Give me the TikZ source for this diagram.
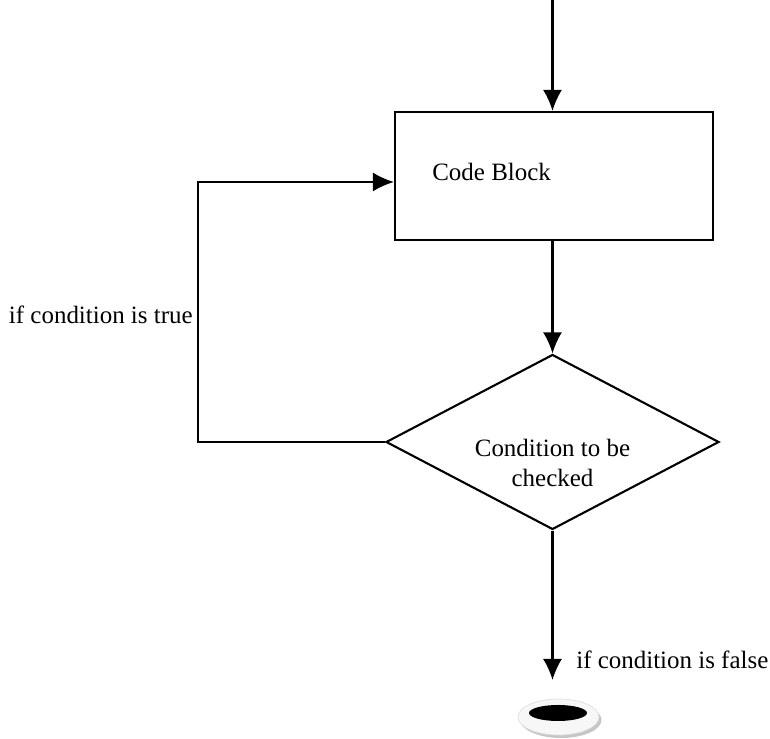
\documentclass[tikz,border=0pt]{standalone}
\usepackage{fontspec}
\setmainfont{Liberation Serif}
\usepackage{tikz}
\usetikzlibrary{
    shapes.geometric,
    positioning,
    arrows.meta
}

\begin{document}
\begin{tikzpicture}[
      block/.style={draw, line width=1.2pt, minimum width=6.36cm, minimum height=2.56cm},
      decision/.style={draw, diamond, line width=1.2pt, inner sep=0pt, minimum width=6.66cm, minimum height=3.5cm},
      txt/.style={font=\fontsize{14.2}{17}\selectfont, inner sep=0pt, align=center},
      arrow/.style={-{Latex[length=0.42cm, width=0.38cm]}, line width=1.2pt}
    ]
    \useasboundingbox (0,0) rectangle (15.4,14.78);

    \coordinate (entry) at (11.05,14.78);
    \node[block] (code) at (11.08,11.26) {};
    \node[txt, anchor=west] (codetxt) at (8.64,11.34) {Code Block};
    \node[decision] (cond) at (11.05,5.94) {};
    \node[txt] (condtxt) at (11.05,5.52) {Condition to be\\checked};

    \node[ellipse, fill=gray!45, minimum width=1.62cm, minimum height=0.72cm] (shadow) at (11.22,0.38) {};
    \node[ellipse, draw=gray!25, fill=gray!6, minimum width=1.62cm, minimum height=0.72cm] (stop) at (11.17,0.44) {};
    \node[ellipse, fill=black, minimum width=1.16cm, minimum height=0.32cm, inner sep=0pt] (hole) at (11.16,0.52) {};

    \coordinate (loopin) at ([yshift=-0.12cm]code.west);
    \coordinate (exit) at (11.05,1.18);

    \draw[arrow] (entry) -- (code.north -| entry);
    \draw[arrow] (code.south -| entry) -- (cond.north);
    \draw[arrow] (cond.west) -- ++(-3.74,0) coordinate (corner) |- (loopin);
    \draw[arrow] (cond.south) -- (exit);

    \node[txt, anchor=east] (truetxt) at (3.86,8.48) {if condition is true};
    \node[txt, anchor=west] (falsetxt) at (11.52,1.58) {if condition is false};
  \end{tikzpicture}
\end{document}
